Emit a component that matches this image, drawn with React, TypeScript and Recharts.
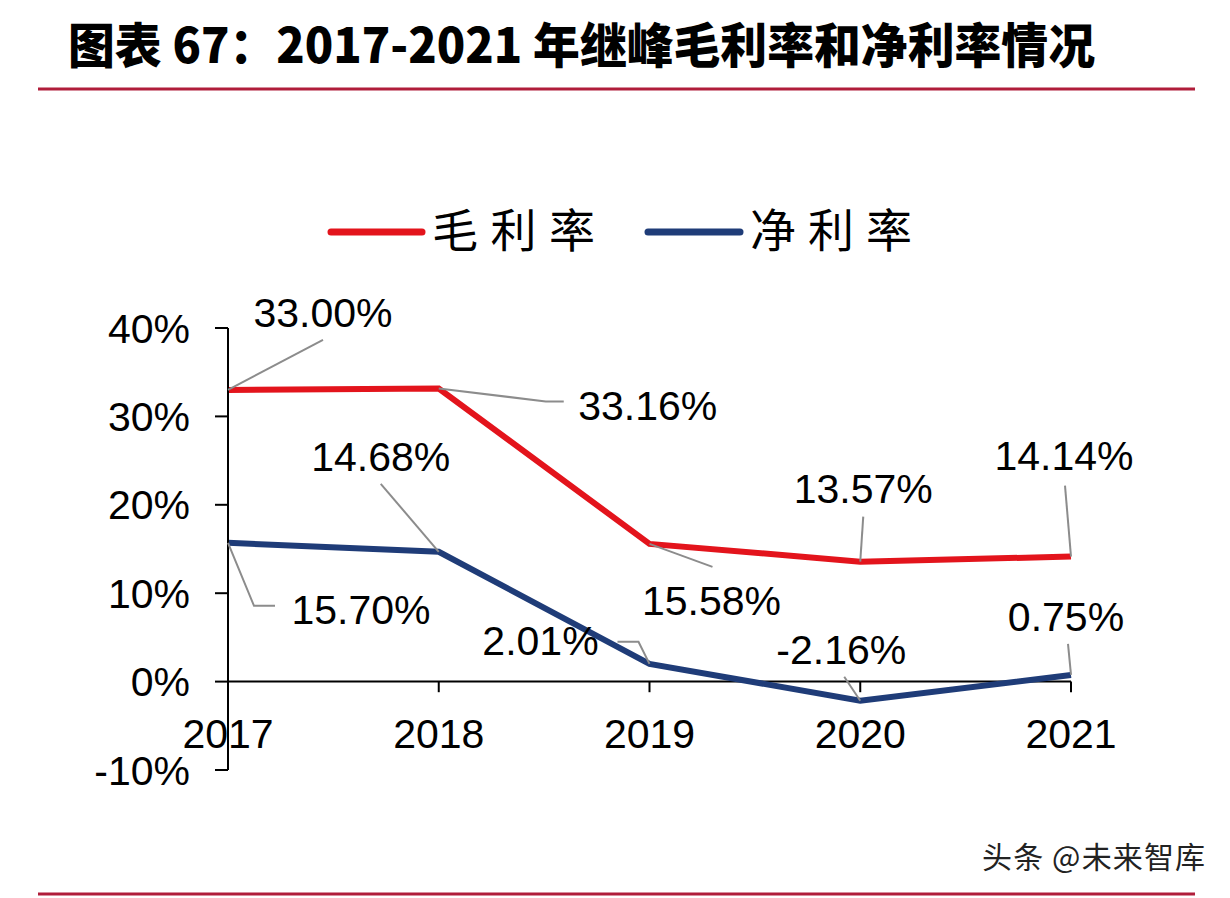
import React from 'react';
import { LineChart, Line, XAxis, YAxis, ReferenceLine, LabelList } from 'recharts';

const years = ['2017', '2018', '2019', '2020', '2021'];
const grossMargin = [33.0, 33.16, 15.58, 13.57, 14.14];
const netMargin = [15.7, 14.68, 2.01, -2.16, 0.75];
const yTicks = [-10, 0, 10, 20, 30, 40];
const seriesNames = ['毛利率', '净利率'];
const titleText = '图表 67：2017-2021 年继峰毛利率和净利率情况';
const watermarkText = '头条 @未来智库';

const data = years.map((y, i) => ({ year: y, gross: grossMargin[i], net: netMargin[i] }));

const RED = '#E3141C';
const BLUE = '#1F3C78';
const RULE = '#B01D3A';
const LEADER = '#8C8C8C';
const NUM_FONT = '"Liberation Sans", Arial, sans-serif';
const CJK_FONT = '"Noto Sans CJK SC", sans-serif';

// label placement (offsets from each point): text center + leader path
const grossLabelLayout = [
  { tx: 95, ty: -78, path: [[95, -50]] },
  { tx: 209, ty: 17, path: [[107, 13], [125, 13]] },
  { tx: 62, ty: 56, path: [[63, 23]] },
  { tx: 3, ty: -74, path: [[3, -45]] },
  { tx: -7, ty: -102, path: [[-6, -71]] },
];
const netLabelLayout = [
  { tx: 133, ty: 66, path: [[26, 63], [47, 63]] },
  { tx: -58, ty: -96, path: [[-58, -68]] },
  { tx: -109, ty: -24, path: [[-11, -22], [-32, -22]] },
  { tx: -19, ty: -52, path: [[-16, -24]] },
  { tx: -5, ty: -59, path: [[-3, -31]] },
];

const makeLabel = (layout: any[]) => (props: any) => {
  const { x, y, value, index } = props;
  const l = layout[index];
  if (!l || x == null || y == null) return null;
  const pts = [[0, 0], ...l.path].map(([dx, dy]) => `${x + dx},${y + dy}`).join(' ');
  return (
    <g>
      <polyline points={pts} fill="none" stroke={LEADER} strokeWidth={2} />
      <text
        x={x + l.tx}
        y={y + l.ty + 15}
        textAnchor="middle"
        fontSize={41}
        fontFamily={NUM_FONT}
        fill="#000"
      >
        {`${Number(value).toFixed(2)}%`}
      </text>
    </g>
  );
};

const renderXTick = (props: any) => {
  const { x, y, payload } = props;
  return (
    <text x={x} y={y - 22} textAnchor="middle" fontSize={41} fontFamily={NUM_FONT} fill="#000">
      {payload.value}
    </text>
  );
};

export default function App() {
  return (
    <div style={{ position: 'absolute', left: 0, top: 0, width: 1230, height: 898, background: '#fff' }}>
      <LineChart
        width={1230}
        height={898}
        data={data}
        margin={{ top: 328, right: 159, bottom: 98, left: 108 }}
      >
        <XAxis
          dataKey="year"
          axisLine={false}
          tickLine={false}
          tickSize={0}
          tickMargin={0}
          height={30}
          interval={0}
          padding={{ left: 0, right: 0 }}
          tick={renderXTick}
        />
        <YAxis
          domain={[-10, 40]}
          ticks={yTicks}
          interval={0}
          width={120}
          tickFormatter={(v: number) => `${v}%`}
          axisLine={{ stroke: '#000', strokeWidth: 2 }}
          tickLine={{ stroke: '#000', strokeWidth: 2 }}
          tickSize={13}
          tickMargin={25}
          tick={{ fill: '#000', fontSize: 41, fontFamily: NUM_FONT }}
        />
        <ReferenceLine y={0} stroke="#000" strokeWidth={2} />
        {years.slice(1).map((yr) => (
          <ReferenceLine
            key={yr}
            segment={[{ x: yr, y: 0 }, { x: yr, y: -1.2 }]}
            stroke="#000"
            strokeWidth={2}
            ifOverflow="visible"
          />
        ))}
        <Line
          dataKey="gross"
          name={seriesNames[0]}
          stroke={RED}
          strokeWidth={6}
          dot={false}
          isAnimationActive={false}
        >
          <LabelList dataKey="gross" content={makeLabel(grossLabelLayout)} />
        </Line>
        <Line
          dataKey="net"
          name={seriesNames[1]}
          stroke={BLUE}
          strokeWidth={6}
          dot={false}
          isAnimationActive={false}
        >
          <LabelList dataKey="net" content={makeLabel(netLabelLayout)} />
        </Line>
      </LineChart>
      <svg
        width={1230}
        height={898}
        style={{ position: 'absolute', left: 0, top: 0, pointerEvents: 'none' }}
      >
        <text
          x={68}
          y={63}
          fontSize={48}
          fontWeight={900}
          fontFamily={CJK_FONT}
          fill="#000"
          textLength={1027}
          lengthAdjust="spacingAndGlyphs"
        >
          {titleText}
        </text>
        <line x1={38} y1={89} x2={1195} y2={89} stroke={RULE} strokeWidth={3} />
        <line x1={331} y1={232} x2={422} y2={232} stroke={RED} strokeWidth={7} strokeLinecap="round" />
        <text x={432} y={247} fontSize={46} fontFamily={CJK_FONT} fill="#000" textLength={163} lengthAdjust="spacing">
          {seriesNames[0]}
        </text>
        <line x1={648} y1={232} x2={740} y2={232} stroke={BLUE} strokeWidth={7} strokeLinecap="round" />
        <text x={750} y={247} fontSize={46} fontFamily={CJK_FONT} fill="#000" textLength={162} lengthAdjust="spacing">
          {seriesNames[1]}
        </text>
        <text x={982} y={868} fontSize={30} fontFamily={CJK_FONT} fill="#222" textLength={223} lengthAdjust="spacing">
          {watermarkText}
        </text>
        <line x1={38} y1={894} x2={1195} y2={894} stroke={RULE} strokeWidth={3} />
      </svg>
    </div>
  );
}
